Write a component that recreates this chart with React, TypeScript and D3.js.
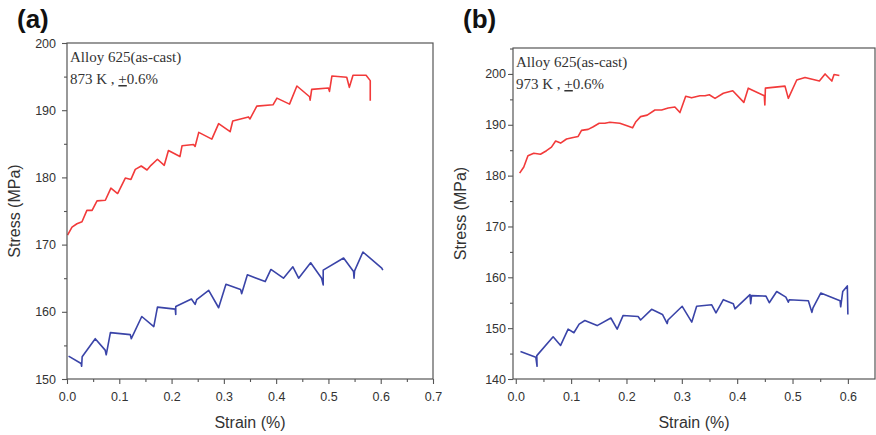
import { useEffect, useRef } from "react";
import * as d3 from "d3";

const W = 876;
const H = 435;

// (a) 873 K : [strain %, stress MPa]
const redA: [number, number][] = [
  [0.001, 171.4], [0.0096, 172.6], [0.019, 173.1], [0.0287, 173.4], [0.038, 175.1], [0.048, 175.1],
  [0.0574, 176.5], [0.0733, 176.6], [0.084, 178.4], [0.0968, 177.6], [0.1115, 179.9], [0.1223, 179.7],
  [0.1306, 181.2], [0.142, 181.7], [0.153, 181.1], [0.1606, 181.8], [0.173, 182.7], [0.186, 181.8],
  [0.194, 184.0], [0.216, 183.1], [0.22, 184.7], [0.242, 184.9], [0.245, 184.6], [0.252, 186.7],
  [0.277, 185.7], [0.29, 188.0], [0.312, 186.8], [0.317, 188.4], [0.347, 189.0], [0.35, 188.7],
  [0.363, 190.6], [0.394, 190.8], [0.4015, 191.8], [0.4256, 190.9], [0.4397, 193.6], [0.464, 192.0],
  [0.465, 191.5], [0.468, 193.1], [0.5, 193.3], [0.502, 192.8], [0.5067, 195.1], [0.535, 194.9],
  [0.54, 193.4], [0.547, 195.2], [0.572, 195.2], [0.58, 194.4], [0.58, 191.4],
];
const blueA: [number, number][] = [
  [0.003, 153.4], [0.027, 152.3], [0.028, 151.9], [0.029, 153.3], [0.054, 156.0], [0.073, 154.3],
  [0.075, 153.6], [0.083, 156.9], [0.121, 156.6], [0.123, 156.0], [0.143, 159.3], [0.166, 157.8],
  [0.173, 160.7], [0.207, 160.4], [0.208, 159.6], [0.208, 160.8], [0.238, 161.9], [0.245, 161.1],
  [0.248, 161.8], [0.271, 163.2], [0.29, 160.6], [0.304, 164.1], [0.332, 163.3], [0.334, 162.7],
  [0.345, 165.5], [0.379, 164.5], [0.39, 166.3], [0.414, 165.0], [0.432, 166.7], [0.443, 165.0],
  [0.466, 167.3], [0.487, 165.0], [0.49, 164.0], [0.49, 166.2], [0.529, 168.0], [0.548, 166.0],
  [0.549, 165.0], [0.55, 166.1], [0.566, 168.9], [0.602, 166.5], [0.604, 166.2],
];

// (b) 973 K
const redB: [number, number][] = [
  [0.007, 180.5], [0.0145, 181.7], [0.022, 183.9], [0.0326, 184.4], [0.0446, 184.2], [0.0555, 184.9],
  [0.0645, 185.6], [0.072, 186.8], [0.081, 186.4], [0.0917, 187.2], [0.1037, 187.5], [0.1127, 187.7],
  [0.1188, 188.9], [0.1308, 189.1], [0.14, 189.6], [0.1507, 190.3], [0.161, 190.3], [0.17, 190.5],
  [0.188, 190.3], [0.201, 189.8], [0.211, 189.4], [0.217, 190.6], [0.2255, 191.6], [0.2375, 191.9],
  [0.2514, 192.9], [0.2635, 192.9], [0.2754, 193.3], [0.2875, 193.5], [0.2966, 192.4], [0.307, 195.6],
  [0.3177, 195.3], [0.3327, 195.7], [0.342, 195.7], [0.3496, 195.9], [0.36, 195.2], [0.375, 196.2],
  [0.392, 196.7], [0.412, 194.4], [0.42, 197.2], [0.449, 195.7], [0.45, 193.9], [0.451, 197.2],
  [0.4864, 197.6], [0.4924, 195.2], [0.5076, 198.8], [0.5226, 199.3], [0.5485, 198.6], [0.5588, 200.0],
  [0.571, 198.6], [0.575, 199.9], [0.5846, 199.7],
];
const blueB: [number, number][] = [
  [0.0085, 145.4], [0.0362, 144.3], [0.0385, 142.5], [0.038, 144.6], [0.0675, 148.3], [0.081, 146.6],
  [0.0946, 149.8], [0.105, 149.1], [0.1145, 150.8], [0.1248, 151.5], [0.147, 150.5], [0.1718, 152.0],
  [0.1832, 149.8], [0.194, 152.5], [0.221, 152.3], [0.2255, 151.6], [0.2454, 153.7], [0.265, 152.7],
  [0.2736, 150.9], [0.275, 151.6], [0.3007, 154.3], [0.318, 151.2], [0.3268, 154.3], [0.354, 154.6],
  [0.3617, 153.0], [0.375, 155.6], [0.393, 154.8], [0.396, 153.8], [0.4231, 156.6], [0.4244, 154.8],
  [0.426, 156.4], [0.452, 156.3], [0.458, 155.0], [0.4714, 157.2], [0.488, 156.1], [0.4924, 155.1],
  [0.494, 155.6], [0.5286, 155.4], [0.535, 153.1], [0.537, 154.0], [0.551, 156.9], [0.5859, 155.4],
  [0.587, 154.2], [0.5907, 157.2], [0.599, 158.3], [0.6, 152.7],
];

const xTicksA = [0, 0.1, 0.2, 0.3, 0.4, 0.5, 0.6, 0.7];
const xMinorA = [0.05, 0.15, 0.25, 0.35, 0.45, 0.55, 0.65];
const yTicksA = [150, 160, 170, 180, 190, 200];
const yMinorA = [155, 165, 175, 185, 195];
const xTicksB = [0, 0.1, 0.2, 0.3, 0.4, 0.5, 0.6];
const xMinorB = [0.05, 0.15, 0.25, 0.35, 0.45, 0.55, 0.65];
const yTicksB = [140, 150, 160, 170, 180, 190, 200];
const yMinorB = [145, 155, 165, 175, 185, 195, 205];

const panelLetters = ["(a)", "(b)"];
const alloyText = "Alloy 625(as-cast)";
const tempText = ["873 K , ", "973 K , "];
const ampText = "0.6%";
const xTitle = "Strain (%)";
const yTitle = "Stress (MPa)";

const RED = "#f23a3a";
const BLUE = "#3a44a8";
const SANS = "'Liberation Sans', Arial, sans-serif";
const SERIF = "'Liberation Serif', 'Times New Roman', serif";

type Panel = {
  letter: string; temp: string;
  left: number; right: number; top: number; bottom: number;
  xDom: [number, number]; yDom: [number, number];
  xTicks: number[]; xMinor: number[]; yTicks: number[]; yMinor: number[];
  yPad: number; red: [number, number][]; blue: [number, number][];
};

function drawPanel(svg: d3.Selection<SVGSVGElement, unknown, null, undefined>, p: Panel) {
  const x = d3.scaleLinear().domain(p.xDom).range([p.left, p.right]);
  const y = d3.scaleLinear().domain(p.yDom).range([p.bottom, p.top]);
  const g = svg.append("g");

  const style = (ax: any) => {
    ax.select(".domain").remove();
    ax.selectAll("line").attr("stroke", "#555").attr("stroke-width", 1.1);
    ax.selectAll("text").attr("fill", "#333").attr("font-size", "12.5px").attr("font-family", SANS);
  };

  g.append("g").attr("transform", `translate(0,${p.bottom})`)
    .call(d3.axisBottom(x).tickValues(p.xMinor).tickSize(3).tickFormat(() => "")).call(style);
  g.append("g").attr("transform", `translate(0,${p.bottom})`)
    .call(d3.axisBottom(x).tickValues(p.xTicks).tickSize(5).tickPadding(8).tickFormat(d3.format(".1f"))).call(style);
  g.append("g").attr("transform", `translate(${p.left},0)`)
    .call(d3.axisLeft(y).tickValues(p.yMinor.filter(v => v <= p.yDom[1])).tickSize(3).tickFormat(() => "")).call(style);
  g.append("g").attr("transform", `translate(${p.left},0)`)
    .call(d3.axisLeft(y).tickValues(p.yTicks).tickSize(5).tickPadding(p.yPad).tickFormat(d3.format("d"))).call(style);

  const line = d3.line<[number, number]>().x(d => x(d[0])).y(d => y(d[1]));
  g.append("path").datum(p.red).attr("d", line).attr("fill", "none").attr("stroke", RED)
    .attr("stroke-width", 1.6).attr("stroke-linejoin", "round");
  g.append("path").datum(p.blue).attr("d", line).attr("fill", "none").attr("stroke", BLUE)
    .attr("stroke-width", 1.6).attr("stroke-linejoin", "round");

  g.append("rect").attr("x", p.left).attr("y", p.top)
    .attr("width", p.right - p.left).attr("height", p.bottom - p.top)
    .attr("fill", "none").attr("stroke", "#555").attr("stroke-width", 1.2);

  g.append("text").attr("x", p.left + 3).attr("y", p.top + 19).attr("font-family", SERIF)
    .attr("font-size", "15px").attr("fill", "#333").text(alloyText);
  const t = g.append("text").attr("x", p.left + 3).attr("y", p.top + 41).attr("font-family", SERIF)
    .attr("font-size", "15px").attr("fill", "#333");
  t.append("tspan").text(p.temp);
  t.append("tspan").attr("text-decoration", "underline").text("+");
  t.append("tspan").text(ampText);

  g.append("text").attr("x", (p.left + p.right) / 2).attr("y", 428).attr("text-anchor", "middle")
    .attr("font-family", SANS).attr("font-size", "16px").attr("fill", "#333").text(xTitle);
  const cy = (p.top + p.bottom) / 2;
  g.append("text").attr("transform", `translate(${p.left - 47},${cy}) rotate(-90)`)
    .attr("text-anchor", "middle").attr("font-family", SANS).attr("font-size", "16px")
    .attr("fill", "#333").text(yTitle);

  g.append("text").attr("x", p.left - 50).attr("y", 28).attr("font-family", SANS)
    .attr("font-weight", "bold").attr("font-size", "26px").attr("fill", "#111").text(p.letter);
}

export default function App() {
  const ref = useRef<SVGSVGElement>(null);

  useEffect(() => {
    const svg = d3.select(ref.current as SVGSVGElement);
    svg.selectAll("*").remove();
    drawPanel(svg, {
      letter: panelLetters[0], temp: tempText[0],
      left: 67, right: 433, top: 43, bottom: 379,
      xDom: [0, 0.7], yDom: [150, 200],
      xTicks: xTicksA, xMinor: xMinorA, yTicks: yTicksA, yMinor: yMinorA, yPad: 6,
      red: redA, blue: blueA,
    });
    drawPanel(svg, {
      letter: panelLetters[1], temp: tempText[1],
      left: 513, right: 875, top: 48, bottom: 379,
      xDom: [-0.005, 0.649], yDom: [140, 205.1],
      xTicks: xTicksB, xMinor: xMinorB.filter(v => v < 0.649), yTicks: yTicksB, yMinor: yMinorB, yPad: 2,
      red: redB, blue: blueB,
    });
  }, []);

  return (
    <svg ref={ref} width={W} height={H} viewBox={`0 0 ${W} ${H}`}
      style={{ position: "absolute", left: 0, top: 0, background: "#fff" }} />
  );
}
